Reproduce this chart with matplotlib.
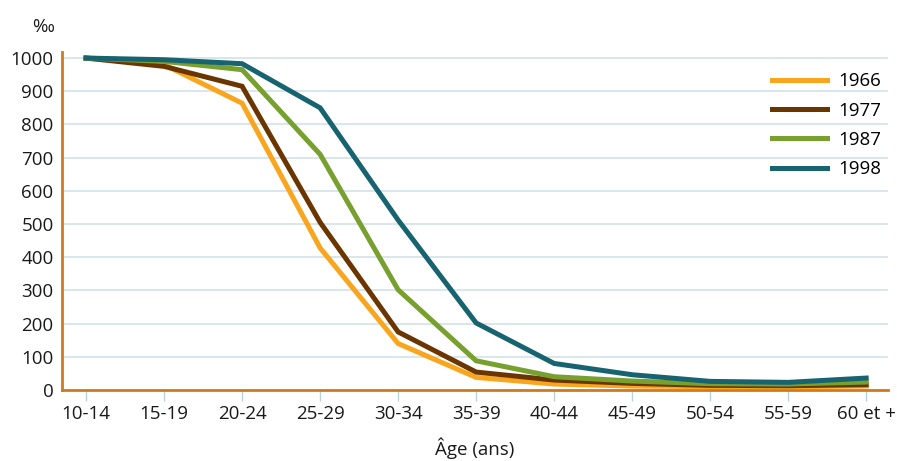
import matplotlib.pyplot as plt

# Data
ages = ['10-14', '15-19', '20-24', '25-29', '30-34', '35-39',
        '40-44', '45-49', '50-54', '55-59', '60 et +']
y1966 = [1000, 980, 864, 428, 140, 38, 18, 12, 10, 10, 12]
y1977 = [1000, 975, 915, 505, 175, 54, 30, 20, 14, 13, 16]
y1987 = [1000, 990, 965, 710, 302, 88, 40, 27, 19, 18, 24]
y1998 = [1000, 995, 983, 850, 512, 202, 80, 46, 26, 23, 36]

series = [('1966', y1966, '#F9A51E'),
          ('1977', y1977, '#6B3500'),
          ('1987', y1987, '#77A02F'),
          ('1998', y1998, '#176470')]

plt.rcParams['font.family'] = ['Open Sans', 'DejaVu Sans']
fs = 13.5

fig = plt.figure(figsize=(8.97, 4.61), dpi=100)
ax = fig.add_axes([0.069, 0.154, 0.921, 0.733])

x = range(len(ages))
for name, vals, col in series:
    ax.plot(x, vals, color=col, lw=3.6, label=name, solid_joinstyle='miter')

ax.set_xlim(-0.31, 10.28)
ax.set_ylim(0, 1018)
ax.set_yticks(range(0, 1001, 100))
ax.set_xticks(list(x))
ax.set_xticklabels(ages)
ax.grid(axis='y', color='#D6E4E9', lw=1.3)
ax.set_axisbelow(True)

for s in ['top', 'right']:
    ax.spines[s].set_visible(False)
ax.spines['left'].set_color('#D07A1E')
ax.spines['bottom'].set_color('#D07A1E')
ax.spines['left'].set_linewidth(2)
ax.spines['bottom'].set_linewidth(2)

ax.tick_params(axis='y', length=0, labelsize=fs, pad=6, colors='#1a1a1a')
ax.tick_params(axis='x', length=8, width=1, color='#B9D3DE', labelsize=fs,
               pad=3, labelcolor='#1a1a1a')

ax.set_xlabel('Âge (ans)', fontsize=fs, labelpad=10, color='#1a1a1a')
fig.text(0.036, 0.93, '‰', fontsize=fs, color='#1a1a1a')

ax.legend(loc='upper right', bbox_to_anchor=(1.012, 0.99), frameon=False,
          fontsize=fs, handlelength=2.9, handletextpad=0.6, labelspacing=0.6)

fig.savefig('out.png', dpi=100)
